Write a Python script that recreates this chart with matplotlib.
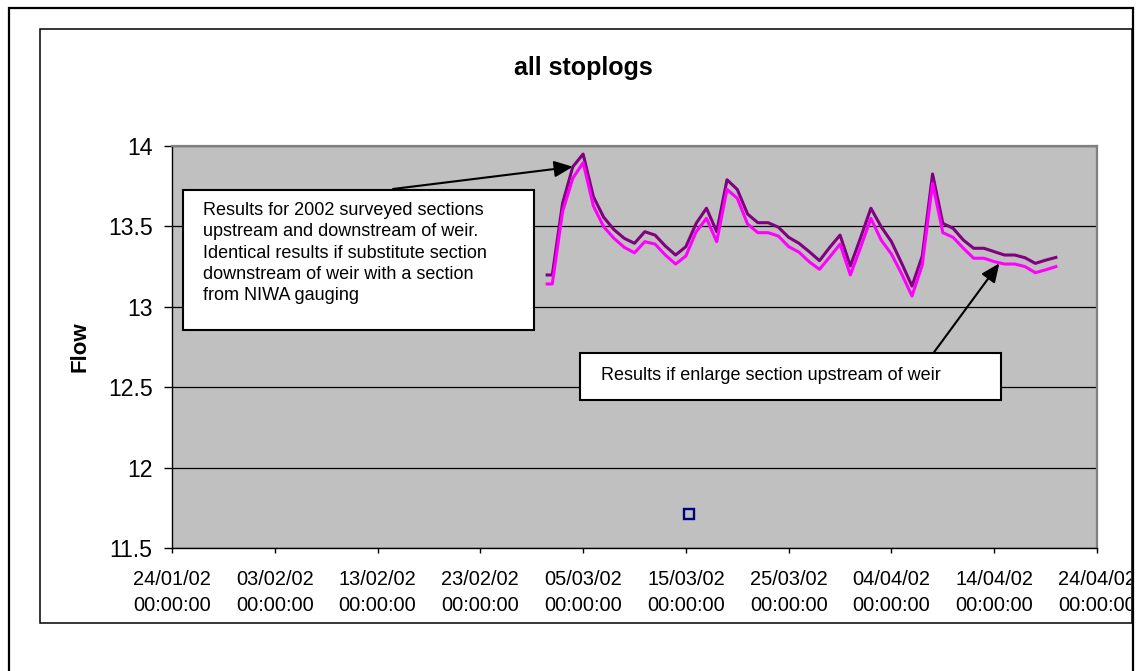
import datetime as dt
import matplotlib
matplotlib.use("Agg")
import matplotlib.pyplot as plt
import matplotlib.dates as mdates
from matplotlib.patches import Rectangle
from matplotlib.transforms import Bbox, TransformedBbox
import pandas as pd

plt.rcParams["font.family"] = ["Liberation Sans", "DejaVu Sans"]

# ---- data -------------------------------------------------------------
dates = [pd.Timestamp("2002-03-01 12:00")] + list(
    pd.date_range("2002-03-02", "2002-04-20", freq="D"))

flow_surveyed = [13.198, 13.198, 13.644, 13.871, 13.95, 13.685, 13.557, 13.48,
                 13.426, 13.395, 13.467, 13.446, 13.378, 13.322, 13.374, 13.519,
                 13.613, 13.467, 13.79, 13.73, 13.577, 13.523, 13.523, 13.495,
                 13.432, 13.395, 13.343, 13.287, 13.37, 13.446, 13.254, 13.43,
                 13.613, 13.498, 13.405, 13.27, 13.129, 13.316, 13.826, 13.519,
                 13.488, 13.415, 13.364, 13.364, 13.343, 13.322, 13.322, 13.305,
                 13.27, 13.29, 13.307]

flow_enlarged = [13.142, 13.142, 13.591, 13.80, 13.896, 13.627, 13.498, 13.426,
                 13.37, 13.336, 13.405, 13.39, 13.322, 13.266, 13.316, 13.467,
                 13.55, 13.405, 13.73, 13.675, 13.515, 13.461, 13.461, 13.44,
                 13.374, 13.34, 13.28, 13.233, 13.31, 13.39, 13.198, 13.37,
                 13.55, 13.415, 13.328, 13.204, 13.067, 13.26, 13.768, 13.461,
                 13.432, 13.364, 13.302, 13.302, 13.281, 13.266, 13.266, 13.25,
                 13.212, 13.23, 13.25]

gauged_date = [pd.Timestamp("2002-03-15 07:00")]
gauged_flow = [11.71]

x_start = dt.datetime(2002, 1, 24)
x_end = dt.datetime(2002, 4, 24)
x_step_days = 10
y_ticks = [11.5, 12, 12.5, 13, 13.5, 14]

title = "all stoplogs"
y_label = "Flow"
note_surveyed = ("Results for 2002 surveyed sections\n"
                 "upstream and downstream of weir.\n"
                 "Identical results if substitute section\n"
                 "downstream of weir with a section\n"
                 "from NIWA gauging")
note_enlarged = "Results if enlarge section upstream of weir"

# ---- figure -----------------------------------------------------------
W, H = 1139, 671
fig = plt.figure(figsize=(W / 100, H / 100), dpi=100)
fig.patch.set_facecolor("white")


def fx(x):
    return x / W


def fy(y):
    return 1 - y / H


ax = fig.add_axes([fx(172), fy(548), fx(1097) - fx(172), fy(146) - fy(548)])
ax.set_facecolor("#C0C0C0")

ax.plot(dates, flow_surveyed, color="#800080", lw=2.2, zorder=3)
ax.plot(dates, flow_enlarged, color="#FF00FF", lw=2.2, zorder=3)
ax.plot(gauged_date, gauged_flow, ls="none", marker="s", ms=6.5,
        mfc="none", mec="#000080", mew=1.7, zorder=4)

ax.set_xlim(x_start, x_end)
ax.set_ylim(y_ticks[0], y_ticks[-1])
ax.set_yticks(y_ticks)
ax.set_yticklabels([f"{v:g}" for v in y_ticks])
tick_dates = []
d = x_start
while d <= x_end:
    tick_dates.append(d)
    d += dt.timedelta(days=x_step_days)
ax.set_xticks(tick_dates)
ax.xaxis.set_major_formatter(mdates.DateFormatter("%d/%m/%y\n%H:%M:%S"))

ax.yaxis.grid(True, color="black", lw=0.9)
ax.set_axisbelow(True)

for side in ("top", "right"):
    ax.spines[side].set_color("#808080")
    ax.spines[side].set_linewidth(1.6)
for side in ("left", "bottom"):
    ax.spines[side].set_color("black")
    ax.spines[side].set_linewidth(1.0)

ax.tick_params(axis="both", direction="out", width=1, colors="black")
ax.tick_params(axis="y", length=6, pad=8, labelsize=16.6)
ax.tick_params(axis="x", length=3.6, pad=12, labelsize=14.4)
for lab in ax.get_xticklabels():
    lab.set_linespacing(1.5)

# tick labels are cut off at the chart border
clip = TransformedBbox(Bbox.from_extents(0, 0, fx(1131), 1), fig.transFigure)
for tk in ax.xaxis.get_major_ticks():
    tk.label1.set_clip_box(clip)
    tk.label1.set_clip_on(True)

# titles
fig.text(fx(583), fy(68), title, ha="center", va="center",
         fontsize=18, fontweight="bold")
fig.text(fx(80), fy(347), y_label, ha="center", va="center",
         rotation=90, fontsize=16, fontweight="bold")

# chart frames
fig.add_artist(Rectangle((fx(9), fy(690)), fx(1133) - fx(9), fy(8) - fy(690),
                         transform=fig.transFigure, fill=False,
                         ec="black", lw=1.6))
fig.add_artist(Rectangle((fx(40), fy(623)), fx(1132) - fx(40), fy(29) - fy(623),
                         transform=fig.transFigure, fill=False,
                         ec="black", lw=1.1))

# annotation boxes
ax.add_patch(Rectangle((fx(183), fy(330)), fx(534) - fx(183), fy(190) - fy(330),
                       transform=fig.transFigure, fc="white", ec="black",
                       lw=1.5, clip_on=False, zorder=6))
ax.text(fx(203), fy(253), note_surveyed, transform=fig.transFigure,
        ha="left", va="center", fontsize=13, linespacing=1.33, zorder=7)

ax.add_patch(Rectangle((fx(580), fy(400)), fx(1001) - fx(580), fy(353) - fy(400),
                       transform=fig.transFigure, fc="white", ec="black",
                       lw=1.5, clip_on=False, zorder=6))
ax.text(fx(601), fy(375), note_enlarged, transform=fig.transFigure,
        ha="left", va="center", fontsize=13, zorder=7)

arrow = dict(arrowstyle="-|>,head_length=0.75,head_width=0.33",
             mutation_scale=15, color="black", lw=1.5, shrinkA=0, shrinkB=0)
ax.annotate("", xy=(dates[3], flow_surveyed[3]), xycoords="data",
            xytext=(393, H - 189), textcoords="figure pixels",
            arrowprops=arrow, annotation_clip=False, zorder=5)
ax.annotate("", xy=(pd.Timestamp("2002-04-14 12:00"), 13.27), xycoords="data",
            xytext=(932, H - 355), textcoords="figure pixels",
            arrowprops=arrow, annotation_clip=False, zorder=5)

fig.savefig("out.png", dpi=100)
